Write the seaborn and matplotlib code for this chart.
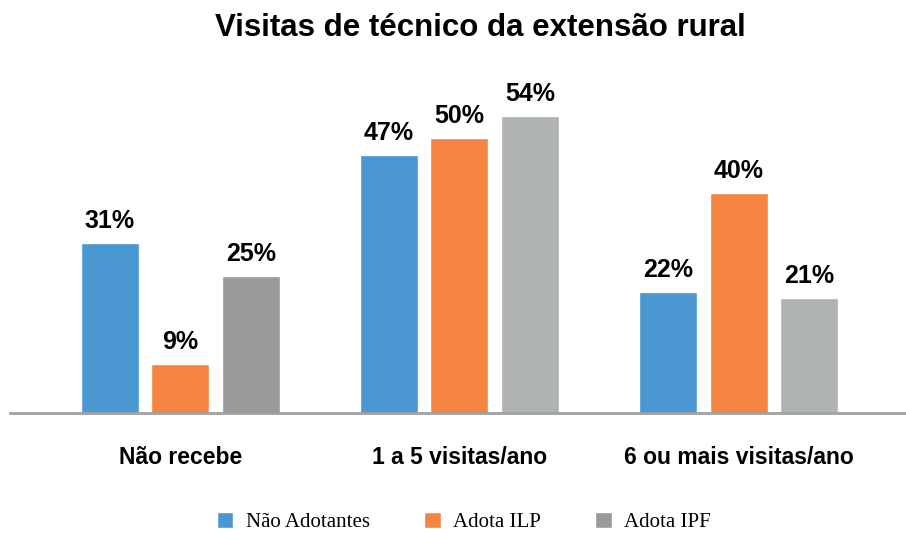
import pandas as pd
import seaborn as sns
import matplotlib.pyplot as plt
from matplotlib.patches import Patch

categories = ["Não recebe", "1 a 5 visitas/ano", "6 ou mais visitas/ano"]
series = ["Não Adotantes", "Adota ILP", "Adota IPF"]
nao_adotantes = [31, 47, 22]
adota_ilp = [9, 50, 40]
adota_ipf = [25, 54, 21]

colors = ["#4a97d2", "#f4843f", "#b0b3b3"]
first_gray = "#999b9b"

df = pd.DataFrame({
    "categoria": categories * 3,
    "serie": [s for s in series for _ in categories],
    "valor": nao_adotantes + adota_ilp + adota_ipf,
})

sns.set_style("white")
plt.rcParams['font.family'] = ['Liberation Sans', 'DejaVu Sans']
plt.rcParams['text.color'] = 'black'
plt.rcParams['xtick.color'] = 'black'

fig = plt.figure(figsize=(9.06, 5.33), dpi=100)
ax = fig.add_axes([10 / 906, 120 / 533, 896 / 906, 330 / 533])

sns.barplot(data=df, x="categoria", y="valor", hue="serie", order=categories,
            hue_order=series, palette=colors, width=0.76, gap=0.18,
            saturation=1, ax=ax, legend=False)

# darker gray on the first group's IPF bar, as in the original
ax.containers[2][0].set_facecolor(first_gray)

for cont in ax.containers:
    ax.bar_label(cont, fmt="%d%%", padding=7, fontsize=18, fontweight="bold",
                 color="black")

ax.set_ylim(0, 60)
ax.set_xlim(-0.61, 2.6)
ax.set_yticks([])
ax.set_xlabel("")
ax.set_ylabel("")
for s in ["top", "left", "right"]:
    ax.spines[s].set_visible(False)
ax.spines["bottom"].set_color("#a0a0a0")
ax.spines["bottom"].set_linewidth(2)
ax.tick_params(axis="x", length=0, pad=24, labelsize=16.5, labelcolor="black")
for lbl in ax.get_xticklabels():
    lbl.set_fontweight("bold")

fig.text(480 / 906, 1 - 28 / 533, "Visitas de técnico da extensão rural",
         ha="center", va="center", fontsize=22.5, fontweight="bold", color="black")

handles = [Patch(facecolor=c, label=s) for c, s in zip([colors[0], colors[1], first_gray], series)]
fig.legend(handles=handles, loc="center", bbox_to_anchor=(464 / 906, 1 - 522 / 533),
           ncol=3, frameon=False, handlelength=0.8, handleheight=0.8,
           handletextpad=0.6, columnspacing=2.6,
           prop={"family": "Liberation Serif", "size": 15})

fig.savefig("out.png", dpi=100)
